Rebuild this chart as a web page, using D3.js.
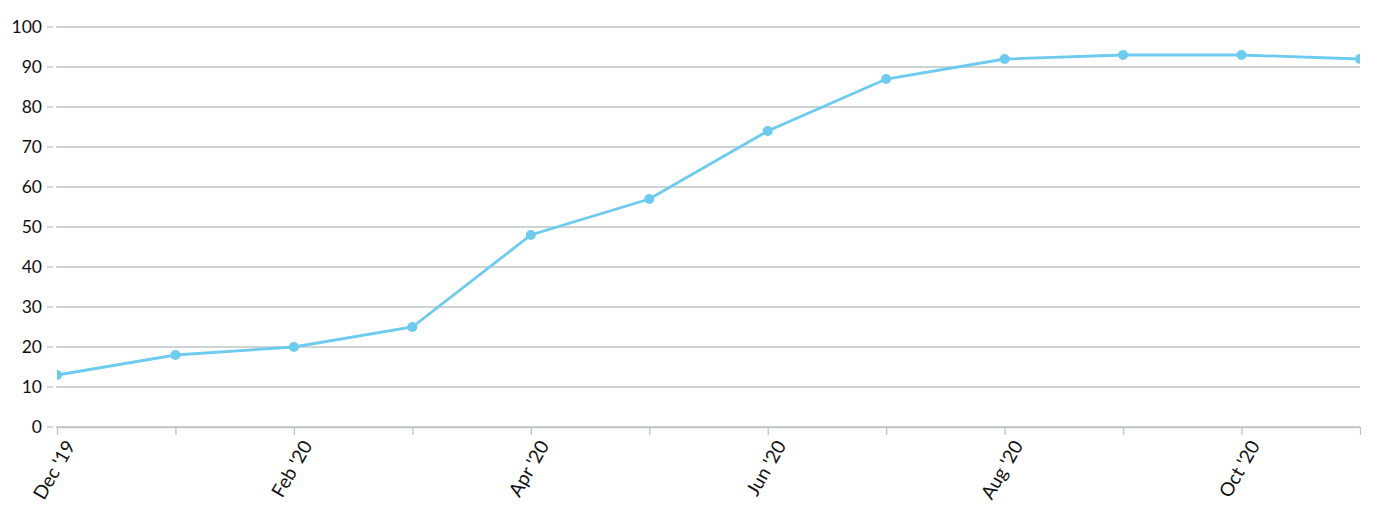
<!DOCTYPE html>
<html><head><meta charset="utf-8">
<script src="https://cdn.jsdelivr.net/npm/d3@7"></script>
<style>body{margin:0;background:#fff}svg{display:block;font-family:Lato,sans-serif}</style>
</head><body><svg id="c" width="1388" height="515"></svg>
<script>
const months = ["Dec '19","Jan '20","Feb '20","Mar '20","Apr '20","May '20","Jun '20","Jul '20","Aug '20","Sep '20","Oct '20","Nov '20"];
const values = [13,18,20,25,48,57,74,87,92,93,93,92];
const yTicks = [0,10,20,30,40,50,60,70,80,90,100];
const labeledMonths = ["Dec '19","Feb '20","Apr '20","Jun '20","Aug '20","Oct '20"];

const svg = d3.select("#c");
const L = 57, R = 1360, T = 27, B = 427;
const x = d3.scalePoint().domain(months).range([L, R]);
const y = d3.scaleLinear().domain([0,100]).range([B, T]);
const grid = "#bec5c5";

svg.append("defs").append("clipPath").attr("id","clip")
  .append("rect").attr("x",L).attr("y",0).attr("width",R-L).attr("height",B+10);

// y grid + ticks
const gy = svg.append("g");
gy.selectAll("line.g").data(yTicks).join("line")
  .attr("x1",L-1).attr("x2",R).attr("y1",d=>y(d)).attr("y2",d=>y(d))
  .attr("stroke",grid).attr("stroke-width",1.3);
gy.selectAll("line.t").data(yTicks).join("line")
  .attr("x1",47).attr("x2",53).attr("y1",d=>y(d)).attr("y2",d=>y(d))
  .attr("stroke",grid).attr("stroke-width",1.3);
gy.selectAll("text").data(yTicks).join("text")
  .attr("x",42).attr("y",d=>y(d)).attr("dy","0.35em").attr("text-anchor","end")
  .attr("font-size",17.5).attr("fill","#111").text(d=>d);

// x axis
const xAxis = d3.axisBottom(x).tickSize(8).tickSizeOuter(0)
  .tickFormat(d => labeledMonths.includes(d) ? d : "");
const gx = svg.append("g").attr("transform",`translate(0,${B})`).call(xAxis);
gx.select(".domain").attr("stroke",grid).attr("stroke-width",1.3);
gx.selectAll(".tick line").attr("stroke",grid).attr("stroke-width",1.3);
gx.selectAll(".tick text").attr("font-family","Lato,sans-serif").attr("font-size",19).attr("fill","#111")
  .attr("text-anchor","end").attr("dx",0).attr("dy",0)
  .attr("transform","translate(9,13) rotate(-60)");

// line
const g = svg.append("g").attr("clip-path","url(#clip)");
const pts = months.map((m,i)=>({m, v: values[i]}));
g.append("path").datum(pts)
  .attr("d", d3.line().x(d=>x(d.m)).y(d=>y(d.v)))
  .attr("fill","none").attr("stroke","#6ccbee").attr("stroke-width",2.8);
g.selectAll("circle").data(pts).join("circle")
  .attr("cx",d=>x(d.m)).attr("cy",d=>y(d.v)).attr("r",5).attr("fill","#6ccbee");
</script></body></html>
